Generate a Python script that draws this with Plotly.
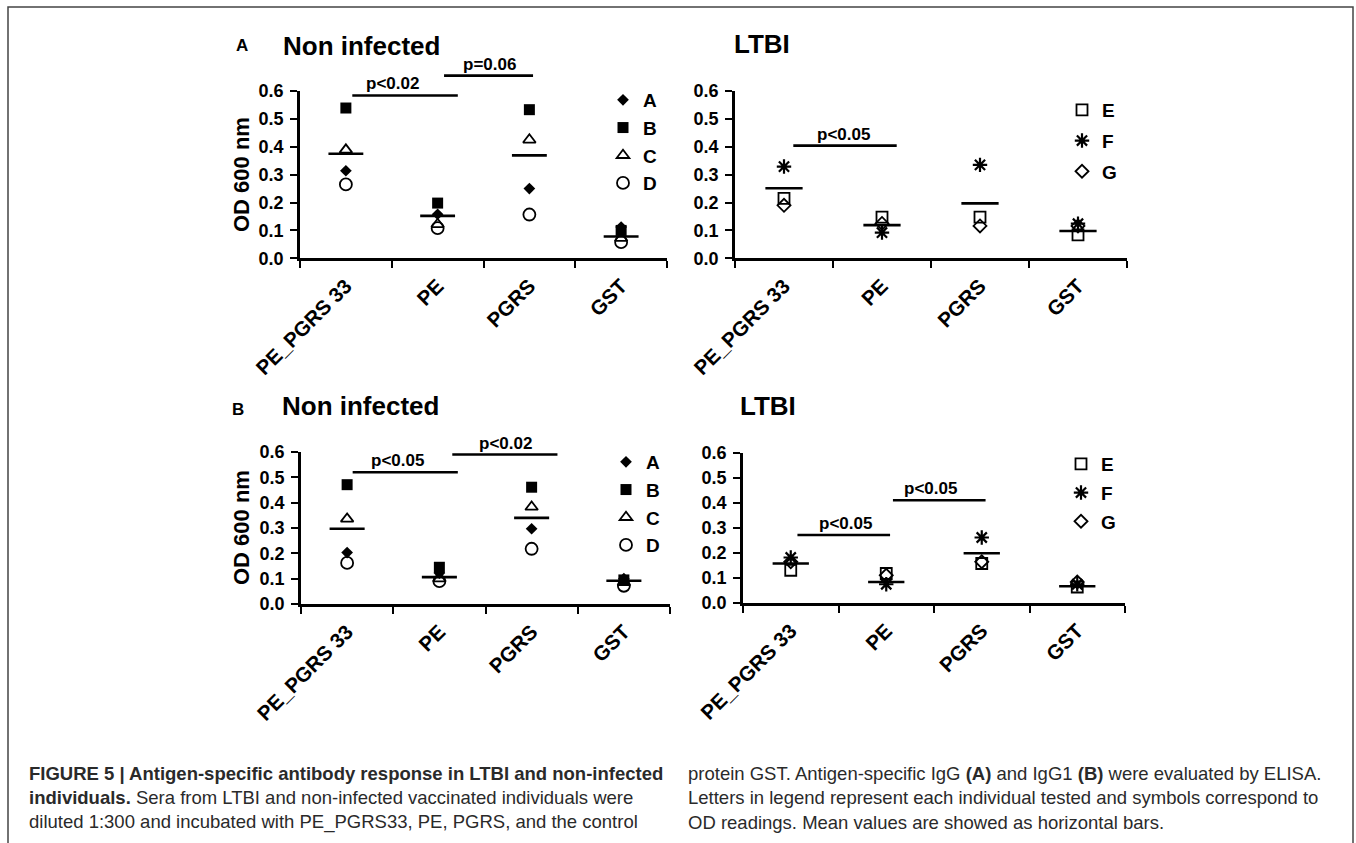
import plotly.graph_objects as go

# ---------------------------------------------------------------- data
CATEGORIES = ["PE_PGRS 33", "PE", "PGRS", "GST"]
Y_TICKS = [0.0, 0.1, 0.2, 0.3, 0.4, 0.5, 0.6]
Y_MAX = 0.6

# IgG (A), non-infected individuals A-D
IGG_NI_A = [0.314, 0.158, 0.250, 0.112]
IGG_NI_B = [0.539, 0.198, 0.533, 0.100]
IGG_NI_C = [0.389, 0.122, 0.425, 0.072]
IGG_NI_D = [0.265, 0.108, 0.157, 0.058]
IGG_NI_MEAN = [0.375, 0.152, 0.369, 0.078]

# IgG (A), LTBI individuals E-G
IGG_LT_E = [0.215, 0.148, 0.148, 0.084]
IGG_LT_F = [0.329, 0.092, 0.335, 0.124]
IGG_LT_G = [0.190, 0.125, 0.116, 0.116]
IGG_LT_MEAN = [0.251, 0.119, 0.197, 0.098]

# IgG1 (B), non-infected individuals A-D
IGG1_NI_A = [0.203, 0.122, 0.297, 0.100]
IGG1_NI_B = [0.471, 0.145, 0.461, 0.095]
IGG1_NI_C = [0.336, 0.100, 0.383, 0.085]
IGG1_NI_D = [0.162, 0.090, 0.218, 0.072]
IGG1_NI_MEAN = [0.297, 0.106, 0.340, 0.092]

# IgG1 (B), LTBI individuals E-G
IGG1_LT_E = [0.131, 0.118, 0.158, 0.064]
IGG1_LT_F = [0.182, 0.075, 0.262, 0.075]
IGG1_LT_G = [0.165, 0.111, 0.165, 0.084]
IGG1_LT_MEAN = [0.158, 0.084, 0.199, 0.067]

# significance brackets: (from category, to category, height, label, label position)
IGG_NI_SIG = [(0.07, 1.22, 0.584, "p<0.02", 0.51), (1.07, 2.04, 0.655, "p=0.06", 1.57)]
IGG_LT_SIG = [(0.095, 1.15, 0.404, "p<0.05", 0.61)]
IGG1_NI_SIG = [(0.06, 1.20, 0.520, "p<0.05", 0.55), (1.14, 2.28, 0.590, "p<0.02", 1.72)]
IGG1_LT_SIG = [(0.07, 1.04, 0.272, "p<0.05", 0.57), (1.07, 2.04, 0.411, "p<0.05", 1.46)]

CAPTION_LEFT = [
    "<b>FIGURE 5 | Antigen-specific antibody response in LTBI and non-infected</b>",
    "<b>individuals.</b> Sera from LTBI and non-infected vaccinated individuals were",
    "diluted 1:300 and incubated with PE_PGRS33, PE, PGRS, and the control",
]
CAPTION_RIGHT = [
    "protein GST. Antigen-specific IgG <b>(A)</b> and IgG1 <b>(B)</b> were evaluated by ELISA.",
    "Letters in legend represent each individual tested and symbols correspond to",
    "OD readings. Mean values are showed as horizontal bars.",
]

# ---------------------------------------------------------------- style
W, H = 1356, 843
FONT = "Arial, Liberation Sans, sans-serif"
CAP_FONT = "Liberation Sans, Arial, sans-serif"
BAR_HALF = 0.19

MARKERS = {
    "A": dict(symbol="diamond", size=9, color="black", line=dict(width=0)),
    "B": dict(symbol="square", size=11, color="black", line=dict(width=0)),
    "C": dict(symbol="triangle-up-open", size=11, color="black", line=dict(width=1.8, color="black")),
    "D": dict(symbol="circle-open", size=12, color="black", line=dict(width=1.8, color="black")),
    "E": dict(symbol="square-open", size=11, color="black", line=dict(width=1.8, color="black")),
    "F": dict(symbol="asterisk-open", size=12, color="black", line=dict(width=2.2, color="black")),
    "G": dict(symbol="diamond-open", size=10, color="black", line=dict(width=1.8, color="black")),
}


def px(x):
    return x / W


def py(y):
    return 1 - y / H


# panel layout: axis suffix, x-domain (px), y-domain (top, bottom px), legend box, item gap
PANELS = [
    dict(ax="", xd=(300, 667), yd=(91, 258.3), legend="legend", lx=603, ly=81, gap=0,
         series=[("A", IGG_NI_A), ("B", IGG_NI_B), ("C", IGG_NI_C), ("D", IGG_NI_D)],
         mean=IGG_NI_MEAN, sig=IGG_NI_SIG),
    dict(ax="2", xd=(735, 1127), yd=(91, 258.3), legend="legend2", lx=1062, ly=91, gap=3,
         series=[("E", IGG_LT_E), ("F", IGG_LT_F), ("G", IGG_LT_G)],
         mean=IGG_LT_MEAN, sig=IGG_LT_SIG),
    dict(ax="3", xd=(301, 670), yd=(452, 604), legend="legend3", lx=606, ly=443, gap=0,
         series=[("A", IGG1_NI_A), ("B", IGG1_NI_B), ("C", IGG1_NI_C), ("D", IGG1_NI_D)],
         mean=IGG1_NI_MEAN, sig=IGG1_NI_SIG),
    dict(ax="4", xd=(743, 1125), yd=(453, 603), legend="legend4", lx=1061, ly=445, gap=1,
         series=[("E", IGG1_LT_E), ("F", IGG1_LT_F), ("G", IGG1_LT_G)],
         mean=IGG1_LT_MEAN, sig=IGG1_LT_SIG),
]

xpos = list(range(len(CATEGORIES)))

fig = go.Figure()
layout = dict(
    width=W, height=H, margin=dict(l=0, r=0, t=0, b=0, autoexpand=False),
    paper_bgcolor="white", plot_bgcolor="white", showlegend=True,
    font=dict(family=FONT, color="black"),
)
annotations = []
shapes = []

for p in PANELS:
    xa, ya = "x" + p["ax"], "y" + p["ax"]
    for name, vals in p["series"]:
        fig.add_trace(go.Scatter(
            x=xpos, y=vals, mode="markers", name=name, marker=MARKERS[name],
            xaxis=xa, yaxis=ya, legend=p["legend"], legendgroup=p["legend"] + name,
            cliponaxis=False, hoverinfo="skip",
        ))
    # mean values as short horizontal bars
    bx, by = [], []
    for i, m in zip(xpos, p["mean"]):
        bx += [i - BAR_HALF, i + BAR_HALF, None]
        by += [m, m, None]
    fig.add_trace(go.Scatter(
        x=bx, y=by, mode="lines", line=dict(color="black", width=2.6),
        xaxis=xa, yaxis=ya, showlegend=False, hoverinfo="skip",
    ))

    layout["xaxis" + p["ax"]] = dict(
        domain=[px(p["xd"][0]), px(p["xd"][1])], anchor=ya, range=[-0.5, 3.5],
        tickvals=xpos, ticktext=CATEGORIES, tickangle=-45,
        tickfont=dict(family=FONT, size=20.5, color="black", weight="bold"),
        ticks="outside", ticklen=5, tickcolor="rgba(0,0,0,0)",
        minor=dict(tickvals=[-0.5, 0.5, 1.5, 2.5, 3.5], ticks="outside", ticklen=7,
                   tickwidth=2, tickcolor="black", showgrid=False),
        showline=True, linecolor="black", linewidth=2.6, showgrid=False, zeroline=False,
        automargin=False, fixedrange=True,
    )
    layout["yaxis" + p["ax"]] = dict(
        domain=[py(p["yd"][1]), py(p["yd"][0])], anchor=xa, range=[0, Y_MAX],
        tickvals=Y_TICKS, tickformat=".1f",
        tickfont=dict(family=FONT, size=18, color="black", weight="bold"),
        ticks="outside", ticklen=7, tickwidth=2, tickcolor="black", ticklabelstandoff=3,
        showline=True, linecolor="black", linewidth=2.6, showgrid=False, zeroline=False,
        automargin=False, fixedrange=True,
    )
    layout[p["legend"]] = dict(
        x=px(p["lx"]), y=py(p["ly"]), xanchor="left", yanchor="top",
        bgcolor="rgba(0,0,0,0)", borderwidth=0, traceorder="grouped",
        tracegroupgap=p["gap"], itemsizing="trace", itemclick=False, itemdoubleclick=False,
        font=dict(family=FONT, size=19, color="black", weight="bold"),
    )
    # significance brackets
    for x0, x1, h, label, lx in p["sig"]:
        shapes.append(dict(type="line", xref=xa, yref=ya + " domain", x0=x0, x1=x1,
                           y0=h / Y_MAX, y1=h / Y_MAX, line=dict(color="black", width=2.6)))
        annotations.append(dict(xref=xa, yref=ya + " domain", x=lx, y=h / Y_MAX,
                                text=label, showarrow=False, xanchor="center", yanchor="bottom",
                                yshift=0, font=dict(family=FONT, size=17, weight="bold")))

# panel letters, panel titles, y-axis titles
TITLES = [
    ("A", 242, 45, 17), ("Non infected", 361, 46, 26), ("LTBI", 762, 44, 26),
    ("B", 238, 409, 17), ("Non infected", 360, 406, 26), ("LTBI", 768, 406, 26),
]
for text, x, y, size in TITLES:
    annotations.append(dict(xref="paper", yref="paper", x=px(x), y=py(y), text=text,
                            showarrow=False, xanchor="center", yanchor="middle",
                            font=dict(family=FONT, size=size, weight="bold")))
for yc in (175, 528):
    annotations.append(dict(xref="paper", yref="paper", x=px(241), y=py(yc), text="OD 600 nm",
                            textangle=-90, showarrow=False, xanchor="center", yanchor="middle",
                            font=dict(family=FONT, size=22, weight="bold")))

# figure caption in two columns
for lines, x0 in ((CAPTION_LEFT, 27), (CAPTION_RIGHT, 686)):
    for k, line in enumerate(lines):
        annotations.append(dict(xref="paper", yref="paper", x=px(x0), y=py(773 + 24.5 * k),
                                text=line, showarrow=False, xanchor="left", yanchor="middle",
                                font=dict(family=CAP_FONT, size=18.5, color="#2a2a2a")))

# outer frame
shapes.append(dict(type="rect", xref="paper", yref="paper", x0=px(8), x1=px(1353),
                   y0=py(860), y1=py(7), line=dict(color="#444444", width=1.5)))

layout["annotations"] = annotations
layout["shapes"] = shapes
fig.update_layout(**layout)
fig.write_html("out.html")
